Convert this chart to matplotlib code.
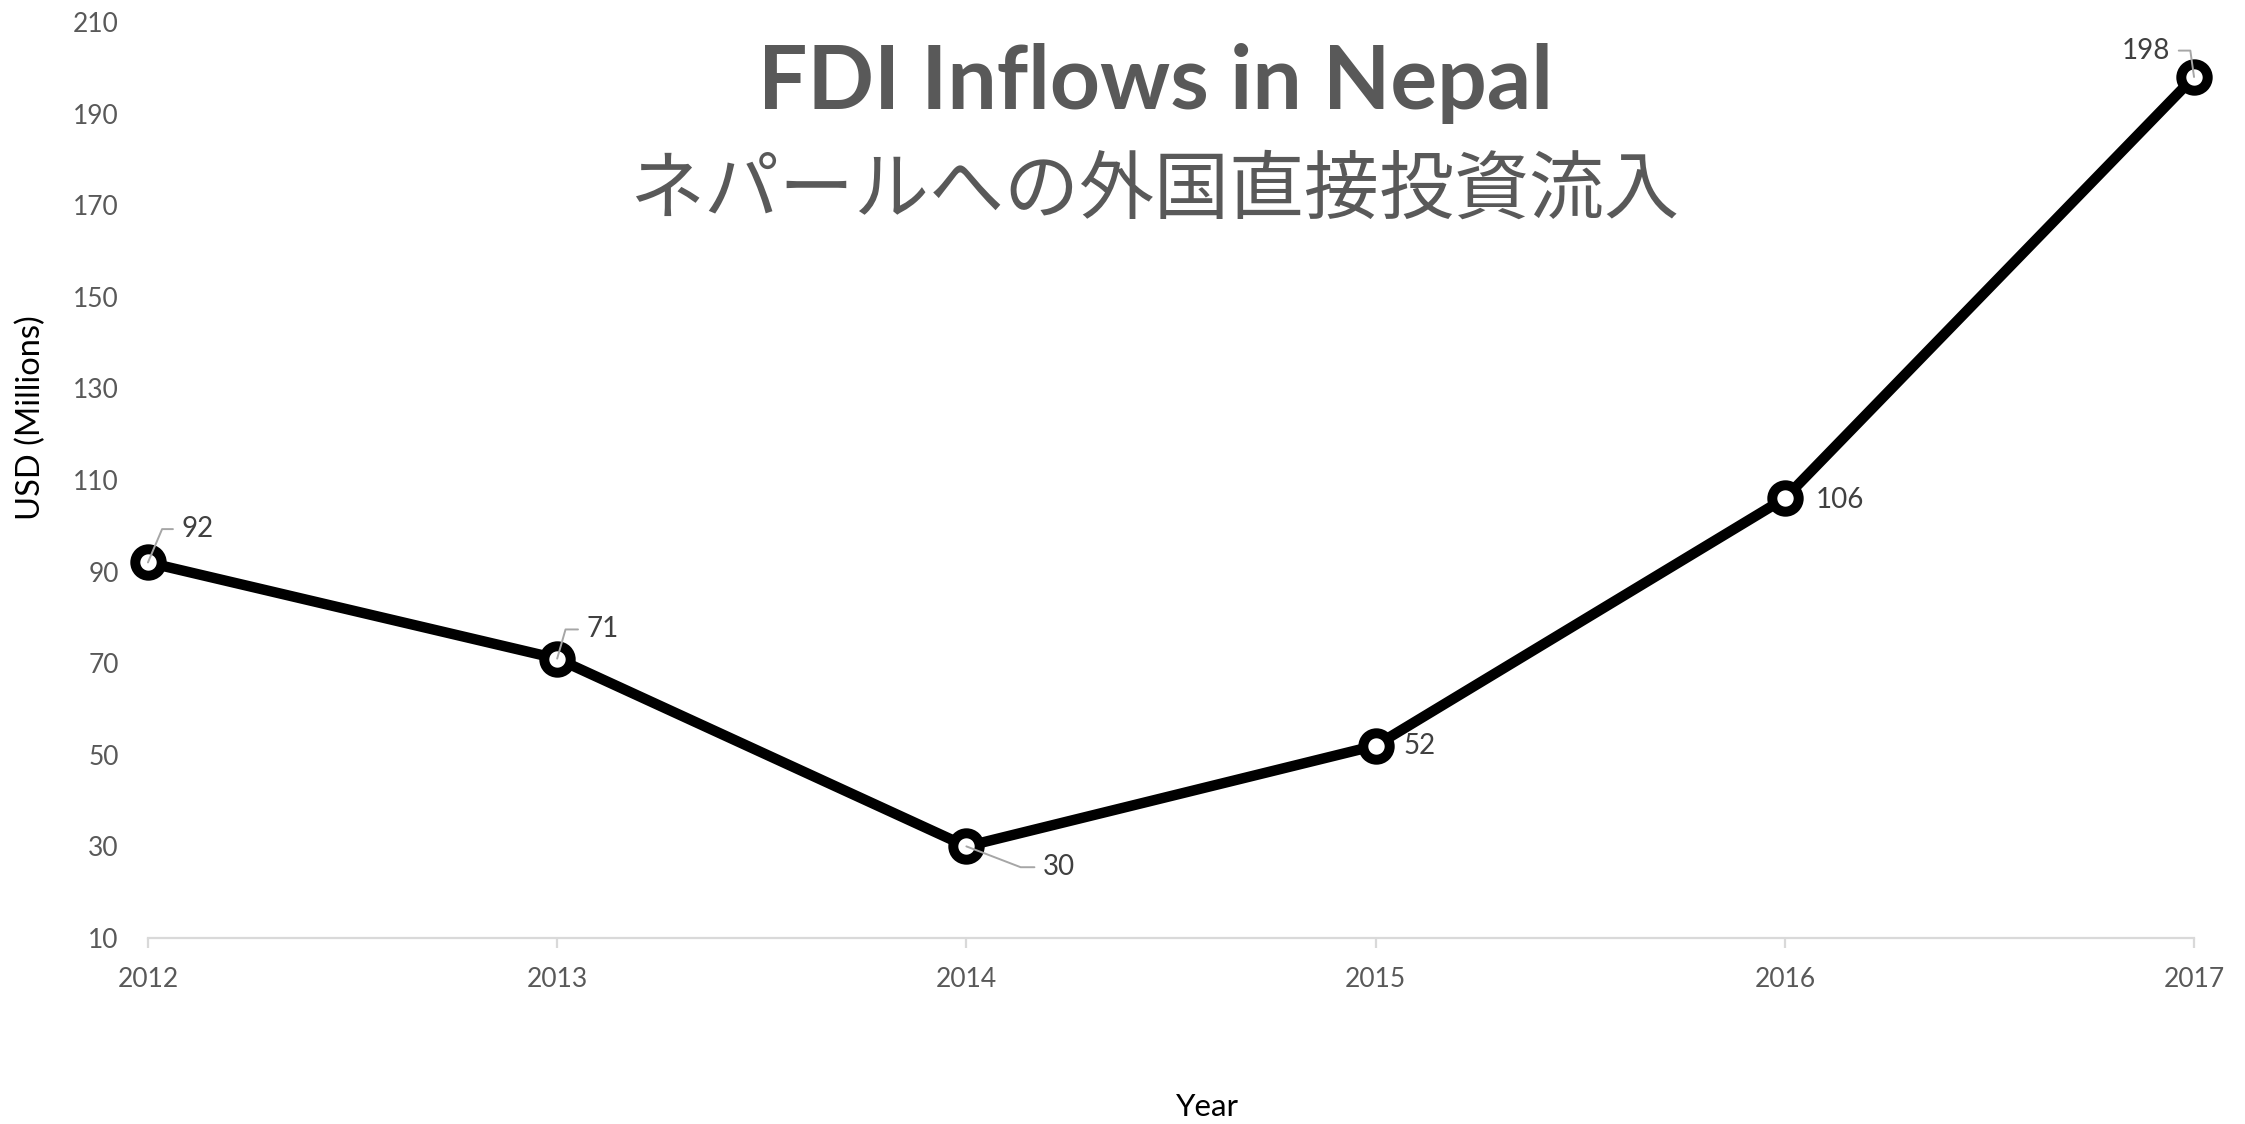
import matplotlib
matplotlib.use("Agg")
import matplotlib.pyplot as plt

years = [2012, 2013, 2014, 2015, 2016, 2017]
fdi = [92, 71, 30, 52, 106, 198]
yticks = [10, 30, 50, 70, 90, 110, 130, 150, 170, 190, 210]
title = "FDI Inflows in Nepal"
subtitle = "ネパールへの外国直接投資流入"
ylabel = "USD (Millions)"
xlabel = "Year"

# label placement (offset points, ha, leader angle or None)
label_cfg = [
    ((24, 24), "left", 67),
    ((21, 21), "left", 74),
    ((55, -15), "left", -21),
    ((20, 0), "left", None),
    ((22, -1), "left", None),
    ((-17, 19), "right", 98),
]

plt.rcParams['font.family'] = ['Lato', 'DejaVu Sans']

fig = plt.figure(figsize=(22.45, 11.24), dpi=100)
ax = fig.add_axes([0.0659, 0.1655, 0.9773 - 0.0659, 0.9804 - 0.1655])

ax.plot(years, fdi, color='black', lw=7.5, marker='o', ms=19, mew=7.2,
        mfc='white', mec='black', clip_on=False, zorder=3,
        solid_joinstyle='round')

ax.set_xlim(2012, 2017)
ax.set_ylim(10, 210)
ax.set_yticks(yticks)
ax.set_xticks(years)
ax.set_xticklabels([str(y) for y in years])

for s in ['top', 'right', 'left']:
    ax.spines[s].set_visible(False)
ax.spines['bottom'].set_color('#d9d9d9')
ax.spines['bottom'].set_linewidth(1.6)

ax.tick_params(axis='y', length=0, pad=21, labelsize=19, labelcolor='#595959')
ax.tick_params(axis='x', length=7, width=1.6, color='#d9d9d9', direction='out',
               pad=14, labelsize=19, labelcolor='#595959')

for x, v, ((dx, dy), ha, ang) in zip(years, fdi, label_cfg):
    kw = {}
    if ang is not None:
        kw['arrowprops'] = dict(arrowstyle='-', color='#a6a6a6', lw=1.4,
                                shrinkA=4, shrinkB=0,
                                relpos=(0 if ha == 'left' else 1, 0.5),
                                connectionstyle=f'angle,angleA=0,angleB={ang},rad=0')
    ax.annotate(str(v), xy=(x, v), xytext=(dx, dy), textcoords='offset points',
                ha=ha, va='center', fontsize=20, color='#404040', zorder=6,
                annotation_clip=False, **kw)

fig.text(1155 / 2245, 1 - 83 / 1124, title, ha='center', va='center',
         fontsize=63, fontweight='bold', color='#595959')
fig.text(1154 / 2245, 1 - 191 / 1124, subtitle, ha='center', va='center',
         fontsize=54, color='#595959', family=['Noto Sans CJK JP', 'DejaVu Sans'])

fig.text(31 / 2245, 1 - 418 / 1124, ylabel, rotation=90, ha='center', va='center',
         fontsize=23.5, color='black')
fig.text(1207 / 2245, 1 - 1107 / 1124, xlabel, ha='center', va='center',
         fontsize=22.5, color='black')

fig.savefig('out.png', dpi=100, facecolor='white')
